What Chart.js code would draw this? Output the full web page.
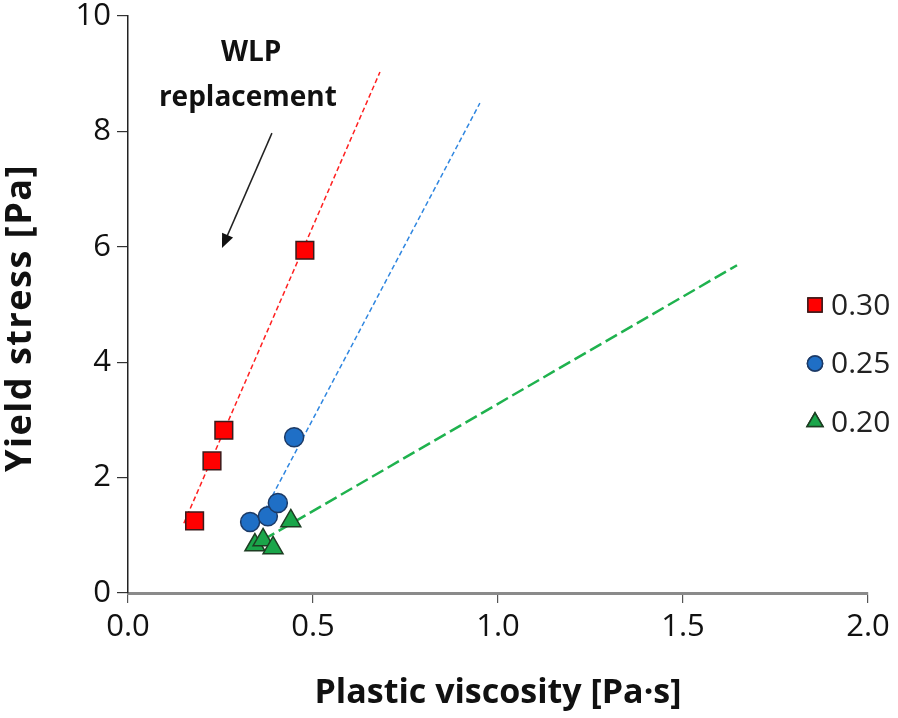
<!DOCTYPE html>
<html>
<head>
<meta charset="utf-8">
<script src="https://cdn.jsdelivr.net/npm/chart.js@4/dist/chart.umd.min.js"></script>
<style>
  html, body { margin: 0; padding: 0; background: #fff; }
  #wrap { width: 898px; height: 718px; position: relative; }
</style>
</head>
<body>
<div id="wrap"><canvas id="chart"></canvas></div>
<script>
const series = ['0.30', '0.25', '0.20'];
const visc30 = [0.18, 0.227, 0.259, 0.478];
const yield30 = [1.25, 2.29, 2.82, 5.94];
const visc25 = [0.33, 0.378, 0.405, 0.449];
const yield25 = [1.23, 1.33, 1.56, 2.70];
const visc20 = [0.343, 0.365, 0.392, 0.44];
const yield20 = [0.83, 0.92, 0.78, 1.25];

// trend line end points
const trendX30 = [0.151, 0.681];
const trendY30 = [1.21, 9.03];
const trendX25 = [0.37, 0.951];
const trendY25 = [1.44, 8.49];
const trendX20 = [0.365, 1.646];
const trendY20 = [0.92, 5.68];

const xTicks = [0, 0.5, 1.0, 1.5, 2.0];
const yTicks = [0, 2, 4, 6, 8, 10];

const FONT = '"Open Sans", Lato, sans-serif';
const toPts = (xs, ys) => xs.map((x, i) => ({ x, y: ys[i] }));

const styles = [
  { color: '#ff0000', border: '#3a1a1a', shape: 'rect', radius: 12.5, line: '#ff2020', dash: [5, 3], width: 1.5 },
  { color: '#1f6fc6', border: '#1c3a66', shape: 'circle', radius: 9.5, line: '#2f86e0', dash: [5, 3], width: 1.5 },
  { color: '#1aa64a', border: '#1d3d22', shape: 'triangle', radius: 11.5, line: '#1fb24e', dash: [13, 5], width: 2.5 },
];

function trend(xs, ys, st) {
  return {
    type: 'line', data: toPts(xs, ys), borderColor: st.line, borderWidth: st.width,
    borderDash: st.dash, pointRadius: 0, fill: false, order: 2,
  };
}
function marks(xs, ys, st, label) {
  return {
    type: 'scatter', label, data: toPts(xs, ys), backgroundColor: st.color,
    borderColor: st.border, borderWidth: 1.5, pointStyle: st.shape,
    pointRadius: st.radius, pointHoverRadius: st.radius, order: 1,
  };
}

// arrow, caption, y title and the legend box sitting inside the plot
const overlay = {
  id: 'overlay',
  afterDatasetsDraw(chart) {
    const { ctx, scales: { x, y } } = chart;
    ctx.save();
    ctx.fillStyle = '#111';
    ctx.textAlign = 'center';
    ctx.textBaseline = 'middle';
    ctx.font = 'bold 28px ' + FONT;
    ctx.fillText('WLP', x.getPixelForValue(0.333), y.getPixelForValue(9.36));
    ctx.fillText('replacement', x.getPixelForValue(0.324), y.getPixelForValue(8.57));

    // y axis title, sits a little below the axis middle in the original
    ctx.save();
    ctx.translate(21, 318);
    ctx.rotate(-Math.PI / 2);
    ctx.font = 'bold 36px ' + FONT;
    ctx.letterSpacing = '1.5px';
    ctx.fillText('Yield stress [Pa]', 0, 0);
    ctx.restore();

    const x1 = x.getPixelForValue(0.389), y1 = y.getPixelForValue(7.97);
    const x2 = x.getPixelForValue(0.254), y2 = y.getPixelForValue(5.98);
    const ang = Math.atan2(y2 - y1, x2 - x1);
    ctx.strokeStyle = '#222';
    ctx.lineWidth = 1.5;
    ctx.beginPath();
    ctx.moveTo(x1, y1);
    ctx.lineTo(x2 - 8 * Math.cos(ang), y2 - 8 * Math.sin(ang));
    ctx.stroke();
    ctx.beginPath();
    ctx.moveTo(x2, y2);
    ctx.lineTo(x2 - 14 * Math.cos(ang) + 6 * Math.sin(ang), y2 - 14 * Math.sin(ang) - 6 * Math.cos(ang));
    ctx.lineTo(x2 - 14 * Math.cos(ang) - 6 * Math.sin(ang), y2 - 14 * Math.sin(ang) + 6 * Math.cos(ang));
    ctx.closePath();
    ctx.fill();

    // legend
    ctx.textAlign = 'left';
    ctx.font = '30px ' + FONT;
    series.forEach((name, i) => {
      const st = styles[i];
      const cy = 305 + i * 58.5;
      ctx.fillStyle = st.color;
      ctx.strokeStyle = st.border;
      ctx.lineWidth = 1.5;
      Chart.helpers.drawPoint(ctx, { pointStyle: st.shape, radius: st.radius * 0.8, borderWidth: 1.5 }, 815, cy);
      ctx.fill();
      ctx.stroke();
      ctx.fillStyle = '#222';
      ctx.fillText(name, 831, cy + 1);
    });
    ctx.restore();
  }
};

new Chart(document.getElementById('chart'), {
  data: {
    datasets: [
      trend(trendX30, trendY30, styles[0]),
      trend(trendX25, trendY25, styles[1]),
      trend(trendX20, trendY20, styles[2]),
      marks(visc30, yield30, styles[0], series[0]),
      marks(visc25, yield25, styles[1], series[1]),
      marks(visc20, yield20, styles[2], series[2]),
    ],
  },
  options: {
    responsive: true,
    maintainAspectRatio: false,
    animation: false,
    layout: { padding: { top: 16, right: 30, left: 0, bottom: 0 } },
    plugins: { legend: { display: false }, tooltip: { enabled: false } },
    scales: {
      x: {
        type: 'linear', min: 0, max: 2,
        afterBuildTicks: s => { s.ticks = xTicks.map(v => ({ value: v })); },
        afterFit: s => { s.height = 125; s.paddingLeft = 0; s.paddingRight = 0; },
        grid: { drawOnChartArea: false, drawTicks: true, tickLength: 10, color: '#555', lineWidth: 1.2 },
        border: { color: '#8a8a8a', width: 3 },
        ticks: { color: '#111', font: { family: FONT, size: 31 }, padding: 6, callback: v => v.toFixed(1) },
        title: { display: true, text: 'Plastic viscosity [Pa·s]', color: '#111', font: { family: FONT, size: 34, weight: 'bold' }, padding: { top: 4, bottom: 4 } },
      },
      y: {
        type: 'linear', min: 0, max: 10,
        afterBuildTicks: s => { s.ticks = yTicks.map(v => ({ value: v })); },
        afterFit: s => { s.width = 128; s.paddingTop = 0; s.paddingBottom = 0; },
        grid: { drawOnChartArea: false, drawTicks: true, tickLength: 11, color: '#333', lineWidth: 1.2 },
        border: { color: '#222', width: 1.5 },
        ticks: { color: '#111', font: { family: FONT, size: 31 }, padding: 6 },
      },
    },
  },
  plugins: [overlay],
});
</script>
</body>
</html>
